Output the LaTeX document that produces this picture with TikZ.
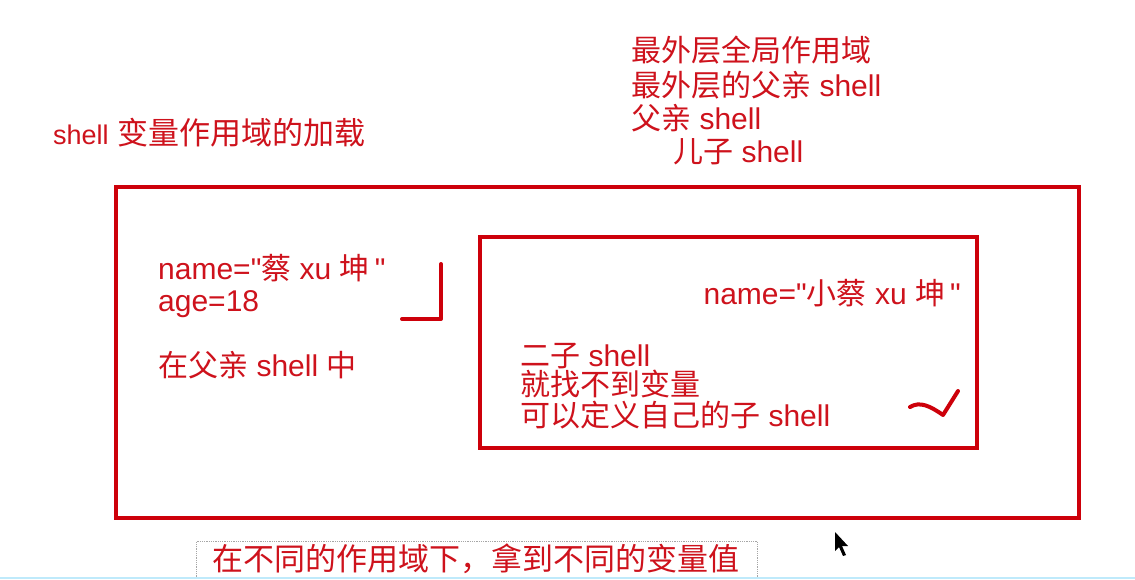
\documentclass[tikz,border=0pt]{standalone}
\usepackage{fontspec}
\setmainfont{Liberation Sans}[Ligatures=TeXOff]
\newfontfamily\cjk{Noto Sans CJK SC}
\definecolor{ink}{RGB}{206,18,28}
\definecolor{pen}{RGB}{205,0,10}
\tikzset{
  >=latex,
}
\tikzstyle{every node}=[font=\fontsize{30}{34}\selectfont,text=ink,inner sep=0pt]
\tikzstyle{txt}=[anchor=base west]
\tikzstyle{frame}=[pen,line width=4.5pt]
\tikzstyle{penmark}=[pen,line width=4pt,line cap=round,line join=round]
\newcommand\qgap{\hspace{5pt}}
\begin{document}
\begin{tikzpicture}[x=1pt,y=-1pt]
    \useasboundingbox[fill=white] (0,0) rectangle (1135,579);
    % title and scope notes
    \node[txt,font=\fontsize{31}{36}\selectfont] (title) at (53,144)
      {{\fontsize{27}{32}\selectfont shell} {\cjk 变量作用域的加载}};
    \node[txt] (top1) at (631,61) {\cjk 最外层全局作用域};
    \node[txt] (top2) at (631,96) {{\cjk 最外层的父亲} shell};
    \node[txt] (top3) at (631,129) {{\cjk 父亲} shell};
    \node[txt] (top4) at (673,162) {{\cjk 儿子} shell};
    % outer and inner scopes
    \draw[frame] (116,187) rectangle (1079,518);
    \draw[frame,line width=4pt] (480,237) rectangle (977,448);
    \node[txt] (name1) at (158,279) {name="{\cjk 蔡} xu {\cjk 坤}\qgap"};
    \node[txt] (age) at (158,311) {age=18};
    \node[txt] (parent) at (158,376) {{\cjk 在父亲} shell {\cjk 中}};
    \node[anchor=base east] (name2) at (961,304) {name="{\cjk 小蔡} xu {\cjk 坤}\qgap"};
    \node[txt] (child1) at (520,366) {{\cjk 二子} shell};
    \node[txt] (child2) at (520,395) {\cjk 就找不到变量};
    \node[txt] (child3) at (520,426) {{\cjk 可以定义自己的子} shell};
    % hand marks
    \draw[penmark] (441,264)--(441,319)--(402,319);
    \draw[penmark] (910,407) .. controls (920,401) and (930,406) .. (943,415)
      --(958,391);
    % footer
    \node[draw=gray!70,densely dotted,line width=0.8pt,anchor=north west,
      minimum width=561pt,minimum height=40pt] (footbox) at (196,541) {};
    \node[anchor=base,font=\fontsize{31}{36}\selectfont] (foot) at (476,570) {\cjk 在不同的作用域下，拿到不同的变量值};
    \draw[cyan!25,line width=1.5pt] (0,578)--(1135,578);
    \fill[black] (835,532)--(835,551)--(839,547)--(843,556)--(846,555)--(842,546)--(848,546)--cycle;
  \end{tikzpicture}
\end{document}
